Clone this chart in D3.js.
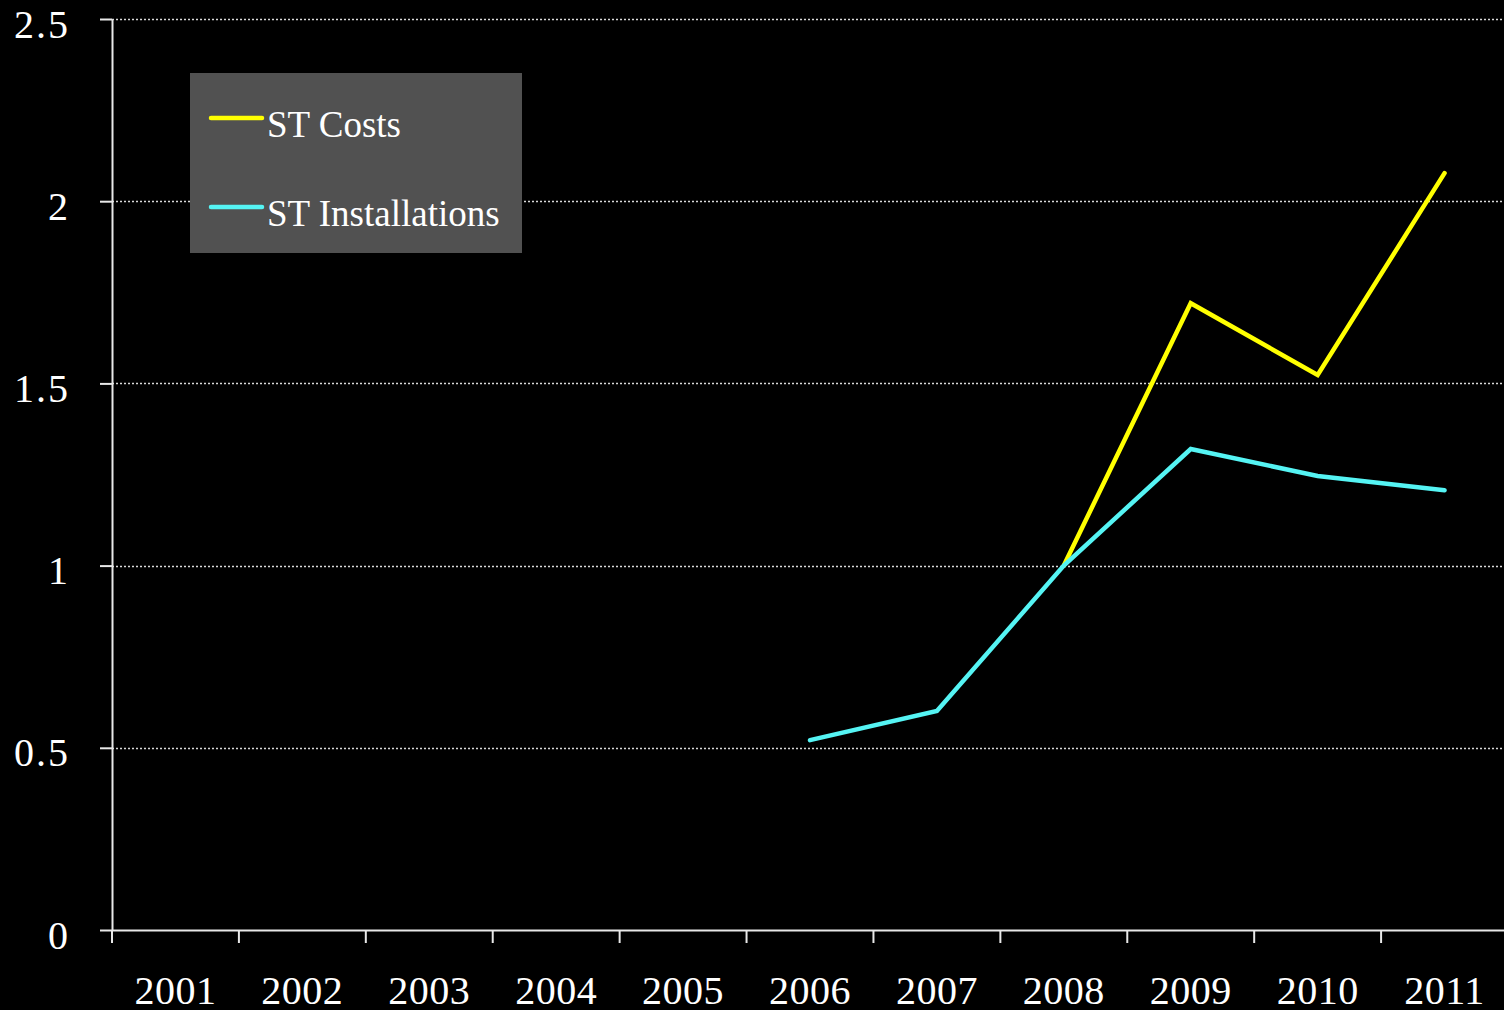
<!DOCTYPE html>
<html>
<head>
<meta charset="utf-8">
<script src="https://cdn.jsdelivr.net/npm/d3@7"></script>
<style>
  html, body { margin: 0; padding: 0; background: #000; }
  svg { display: block; }
</style>
</head>
<body>
<svg id="chart" width="1504" height="1010"></svg>
<script>
// Years on the category axis
const years = ["2001", "2002", "2003", "2004", "2005", "2006", "2007", "2008", "2009", "2010", "2011"];
// Series values (null = no data)
const stCosts = [null, null, null, null, null, null, null, 1.0, 1.72, 1.523, 2.077];
const stInstallations = [null, null, null, null, null, 0.521, 0.601, 1.0, 1.32, 1.246, 1.207];
// Y axis ticks
const yTicks = [0, 0.5, 1, 1.5, 2, 2.5];
const yTickLabels = ["0", "0.5", "1", "1.5", "2", "2.5"];

const seriesList = [
  { name: "ST Costs", values: stCosts, color: "#ffff00" },
  { name: "ST Installations", values: stInstallations, color: "#55f4f4" }
];

const svg = d3.select("#chart");
const W = 1504, H = 1010;
const m = { left: 112, top: 19, bottom: 930, right: 1508 };
const font = "'Liberation Serif', 'Times New Roman', serif";
const axisColor = "#e8e8e8";

svg.append("rect").attr("width", W).attr("height", H).attr("fill", "#000");

const x = d3.scaleBand().domain(years).range([m.left, m.right]).paddingInner(0).paddingOuter(0);
const y = d3.scaleLinear().domain([0, 2.5]).range([m.bottom, m.top]);

// Dotted horizontal gridlines
svg.append("g")
  .selectAll("line")
  .data(yTicks.filter(d => d > 0))
  .join("line")
  .attr("x1", m.left).attr("x2", W)
  .attr("y1", d => Math.round(y(d)) + 0.5).attr("y2", d => Math.round(y(d)) + 0.5)
  .attr("stroke", "#d8d8d8")
  .attr("stroke-width", 1.3)
  .attr("stroke-dasharray", "2,2");

// Y axis
const yAxis = d3.axisLeft(y)
  .tickValues(yTicks)
  .tickFormat((d, i) => yTickLabels[i])
  .tickSize(12)
  .tickSizeOuter(0)
  .tickPadding(30);
const gy = svg.append("g").attr("transform", `translate(${m.left},0)`).call(yAxis);
gy.select(".domain").attr("stroke", axisColor).attr("stroke-width", 2);
gy.selectAll(".tick line").attr("stroke", axisColor).attr("stroke-width", 2);
gy.selectAll(".tick text")
  .attr("fill", "#fff")
  .attr("font-family", font)
  .attr("font-size", 40)
  .attr("letter-spacing", 2)
  .attr("dy", "0.45em");

// X axis: ticks at band edges, labels centred in bands
const xAxis = d3.axisBottom(x).tickSize(0).tickSizeOuter(0).tickPadding(62);
const gx = svg.append("g").attr("transform", `translate(0,${m.bottom})`).call(xAxis);
gx.select(".domain").attr("stroke", axisColor).attr("stroke-width", 2);
gx.selectAll(".tick text")
  .attr("fill", "#fff")
  .attr("font-family", font)
  .attr("font-size", 40)
  .attr("letter-spacing", 0.5)
  .attr("dy", "0.3em");
gx.append("g")
  .selectAll("line")
  .data(years)
  .join("line")
  .attr("x1", d => x(d)).attr("x2", d => x(d))
  .attr("y1", 0).attr("y2", 13)
  .attr("stroke", axisColor)
  .attr("stroke-width", 2);

// Series lines
const line = d3.line()
  .defined(d => d.v != null)
  .x(d => x(d.year) + x.bandwidth() / 2)
  .y(d => y(d.v));

svg.append("g")
  .selectAll("path")
  .data(seriesList)
  .join("path")
  .attr("d", s => line(years.map((yr, i) => ({ year: yr, v: s.values[i] }))))
  .attr("fill", "none")
  .attr("stroke", s => s.color)
  .attr("stroke-width", 4.5)
  .attr("stroke-linecap", "round")
  .attr("stroke-linejoin", "miter");

// Legend
const legend = svg.append("g").attr("transform", "translate(190,73)");
legend.append("rect").attr("width", 332).attr("height", 180).attr("fill", "#515151");
const items = legend.selectAll("g.item")
  .data(seriesList)
  .join("g")
  .attr("class", "item")
  .attr("transform", (d, i) => `translate(0,${45 + i * 89})`);
items.append("line")
  .attr("x1", 21).attr("x2", 72)
  .attr("stroke", d => d.color)
  .attr("stroke-width", 4.5)
  .attr("stroke-linecap", "round");
items.append("text")
  .attr("x", 77)
  .attr("y", 19)
  .attr("fill", "#fff")
  .attr("font-family", font)
  .attr("font-size", 37)
  .text(d => d.name);
</script>
</body>
</html>
